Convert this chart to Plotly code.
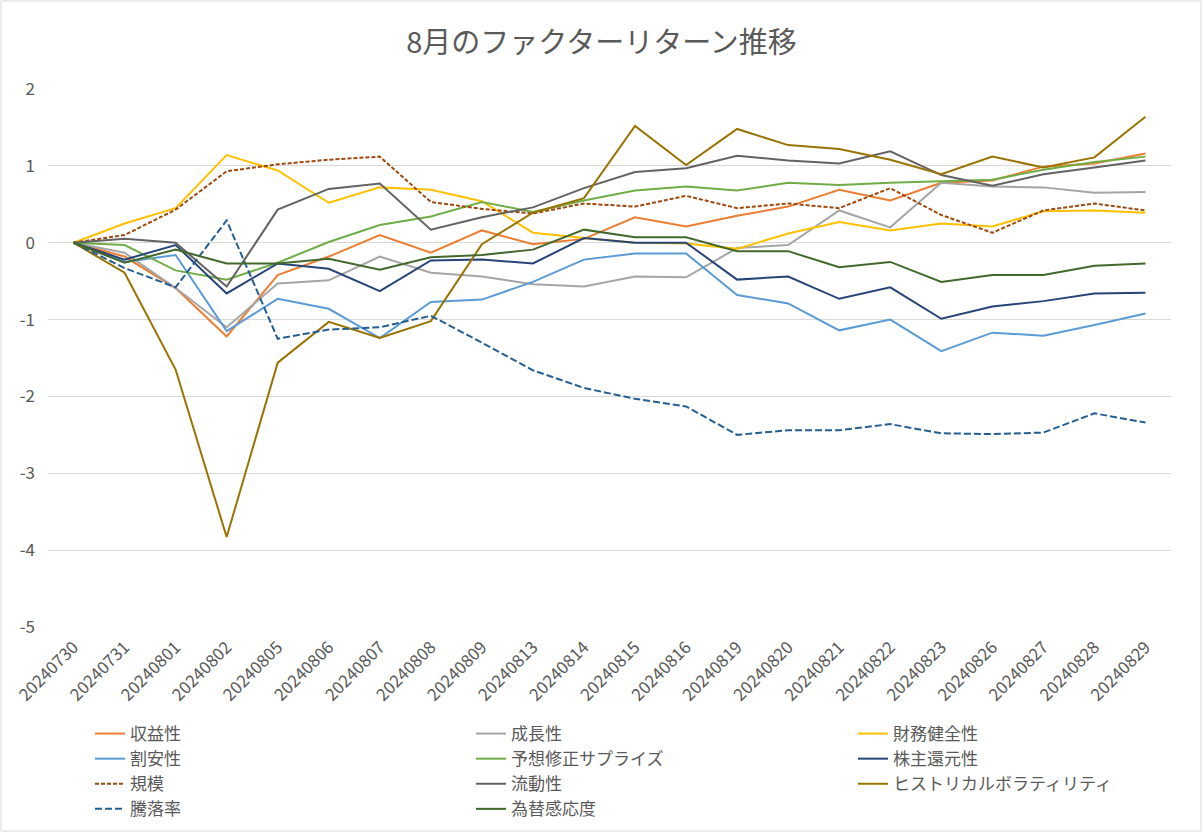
import plotly.graph_objects as go

dates = ["20240730", "20240731", "20240801", "20240802", "20240805", "20240806",
         "20240807", "20240808", "20240809", "20240813", "20240814", "20240815",
         "20240816", "20240819", "20240820", "20240821", "20240822", "20240823",
         "20240826", "20240827", "20240828", "20240829"]

profitability = [0, -0.18, -0.59, -1.22, -0.42, -0.18, 0.10, -0.13, 0.16, -0.02, 0.05,
                 0.33, 0.21, 0.35, 0.47, 0.69, 0.55, 0.78, 0.81, 0.99, 1.03, 1.16]
growth = [0, -0.13, -0.59, -1.10, -0.53, -0.49, -0.18, -0.39, -0.44, -0.54, -0.57,
          -0.44, -0.45, -0.07, -0.03, 0.42, 0.20, 0.78, 0.73, 0.72, 0.65, 0.66]
financial_health = [0, 0.25, 0.45, 1.14, 0.94, 0.52, 0.72, 0.69, 0.54, 0.13, 0.06,
                    0.00, -0.01, -0.08, 0.12, 0.27, 0.16, 0.25, 0.21, 0.41, 0.42, 0.39]
value = [0, -0.25, -0.16, -1.15, -0.73, -0.86, -1.24, -0.77, -0.74, -0.51, -0.22,
         -0.14, -0.14, -0.68, -0.79, -1.14, -1.00, -1.41, -1.17, -1.21, -1.07, -0.92]
revision_surprise = [0, -0.03, -0.36, -0.48, -0.26, 0.01, 0.23, 0.34, 0.53, 0.40, 0.55,
                     0.68, 0.73, 0.68, 0.78, 0.75, 0.78, 0.80, 0.82, 0.95, 1.05, 1.12]
shareholder_return = [0, -0.22, -0.03, -0.66, -0.27, -0.34, -0.63, -0.23, -0.22, -0.27, 0.06,
                      0.00, 0.00, -0.48, -0.44, -0.73, -0.58, -0.99, -0.83, -0.76, -0.66, -0.65]
size = [0, 0.10, 0.43, 0.93, 1.02, 1.08, 1.12, 0.53, 0.44, 0.38, 0.51,
        0.47, 0.61, 0.45, 0.51, 0.45, 0.71, 0.36, 0.13, 0.42, 0.51, 0.42]
liquidity = [0, 0.05, 0.00, -0.57, 0.43, 0.70, 0.77, 0.17, 0.33, 0.46, 0.71,
             0.92, 0.97, 1.13, 1.07, 1.03, 1.19, 0.88, 0.74, 0.89, 0.98, 1.07]
hist_vol = [0, -0.39, -1.65, -3.83, -1.56, -1.03, -1.24, -1.02, -0.02, 0.39, 0.58,
            1.52, 1.01, 1.48, 1.27, 1.22, 1.08, 0.89, 1.12, 0.98, 1.11, 1.64]
momentum = [0, -0.33, -0.58, 0.29, -1.25, -1.13, -1.10, -0.95, -1.30, -1.66, -1.89,
            -2.03, -2.13, -2.50, -2.44, -2.44, -2.36, -2.48, -2.49, -2.47, -2.22, -2.34]
fx_sensitivity = [0, -0.26, -0.09, -0.27, -0.27, -0.21, -0.35, -0.19, -0.16, -0.09, 0.17,
                  0.07, 0.07, -0.11, -0.11, -0.32, -0.25, -0.51, -0.42, -0.42, -0.30, -0.27]

y_tick_values = [-5, -4, -3, -2, -1, 0, 1, 2]
y_tick_labels = ["-5", "-4", "-3", "-2", "-1", "0", "1", "2"]

# (name, values, colour, dash, legend column)
series = [
    ("収益性", profitability, "#ED7D31", "solid", "legend"),
    ("成長性", growth, "#A5A5A5", "solid", "legend2"),
    ("財務健全性", financial_health, "#FFC000", "solid", "legend3"),
    ("割安性", value, "#5B9BD5", "solid", "legend"),
    ("予想修正サプライズ", revision_surprise, "#70AD47", "solid", "legend2"),
    ("株主還元性", shareholder_return, "#264478", "solid", "legend3"),
    ("規模", size, "#9E480E", "4px,2px", "legend"),
    ("流動性", liquidity, "#636363", "solid", "legend2"),
    ("ヒストリカルボラティリティ", hist_vol, "#997300", "solid", "legend3"),
    ("騰落率", momentum, "#255E91", "7px,3px", "legend"),
    ("為替感応度", fx_sensitivity, "#43682B", "solid", "legend2"),
]

FONT = "Noto Sans CJK JP"
TXT = "#595959"

fig = go.Figure()
for name, vals, color, dash, leg in series:
    fig.add_trace(go.Scatter(
        x=dates, y=vals, name=name, mode="lines", legend=leg, legendgroup=name,
        line=dict(color=color, width=2, dash=dash),
    ))

W, H = 1203, 833
L, R, T, B = 48, 32, 89, 206
PW, PH = W - L - R, H - T - B


def px_x(px):
    return (px - L) / PW


def px_y(py):
    return (H - B - py) / PH


leg_common = dict(orientation="v", xanchor="left", yanchor="top",
                  font=dict(family=FONT, size=17, color=TXT),
                  tracegroupgap=0, traceorder="normal", bgcolor="rgba(0,0,0,0)")

fig.update_layout(
    width=W, height=H,
    margin=dict(l=L, r=R, t=T, b=B, autoexpand=False),
    paper_bgcolor="white", plot_bgcolor="white",
    font=dict(family=FONT, color=TXT, size=15),
    title=dict(text="8月のファクターリターン推移", x=0.5, xanchor="center",
               y=(H - 43) / H, yanchor="middle",
               font=dict(family=FONT, size=29, color=TXT)),
    xaxis=dict(type="category", range=[-0.5, 21.5], showgrid=False,
               showline=False, ticks="", tickangle=-45, automargin=False,
               ticklabelstandoff=6,
               tickfont=dict(family=FONT, size=17, color=TXT)),
    yaxis=dict(range=[-5, 2], tickvals=y_tick_values, ticktext=y_tick_labels,
               showgrid=True, gridcolor="#D9D9D9", gridwidth=1, zeroline=False,
               automargin=False, showline=False, ticks="", ticklabelstandoff=12,
               tickfont=dict(family=FONT, size=17, color=TXT)),
    legend=dict(x=px_x(90), y=px_y(716), **leg_common),
    legend2=dict(x=px_x(471), y=px_y(716), **leg_common),
    legend3=dict(x=px_x(853), y=px_y(716), **leg_common),
    showlegend=True,
)

fig.add_shape(type="rect", xref="paper", yref="paper",
              x0=px_x(1), x1=px_x(1201), y0=px_y(831), y1=px_y(1),
              line=dict(color="#D9D9D9", width=1), fillcolor="rgba(0,0,0,0)",
              layer="below")

fig.write_html("out.html", config={"displayModeBar": False},
               post_script="document.body.style.margin='0px';")
